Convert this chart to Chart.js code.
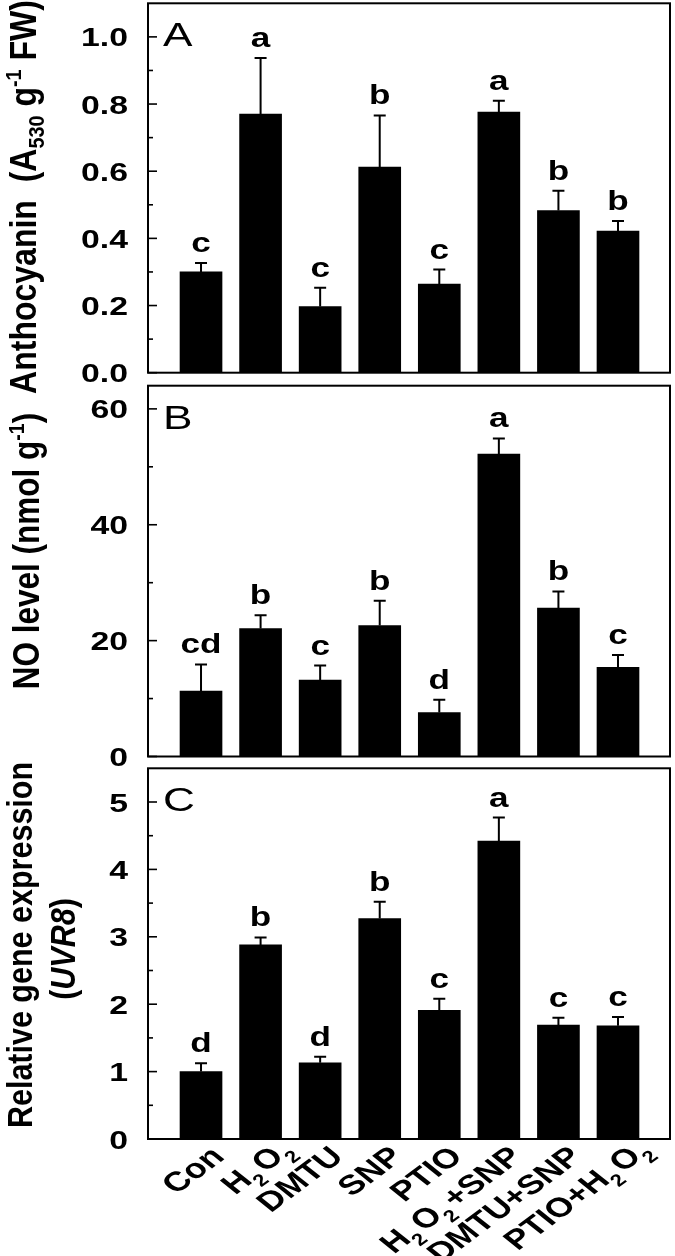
<!DOCTYPE html>
<html><head><meta charset="utf-8">
<script src="https://cdn.jsdelivr.net/npm/chart.js@4.4.1/dist/chart.umd.min.js"></script>
<style>
html,body{margin:0;padding:0;background:#fff;}
#wrap{position:relative;width:675px;height:1256px;overflow:hidden;background:#fff;}
canvas{position:absolute;left:0;top:0;}
</style></head><body>
<div id="wrap">
<canvas id="cA" width="675" height="1256"></canvas>
<canvas id="cB" width="675" height="1256"></canvas>
<canvas id="cC" width="675" height="1256"></canvas>
</div>
<script>
// ---------- data ----------
const categories = ['Con','H2O2','DMTU','SNP','PTIO','H2O2+SNP','DMTU+SNP','PTIO+H2O2'];

const anthocyanin        = [0.300, 0.770, 0.197, 0.612, 0.264, 0.776, 0.483, 0.422];
const anthocyaninSD      = [0.027, 0.167, 0.056, 0.154, 0.043, 0.034, 0.059, 0.030];
const anthocyaninLetters = ['c','a','c','b','c','a','b','b'];

const noLevel        = [11.3, 22.1, 13.2, 22.6, 7.6, 52.2, 25.6, 15.4];
const noLevelSD      = [4.6, 2.3, 2.5, 4.3, 2.2, 2.7, 2.9, 2.1];
const noLevelLetters = ['cd','b','c','b','d','a','b','c'];

const uvr8        = [1.00, 2.88, 1.13, 3.27, 1.91, 4.42, 1.69, 1.68];
const uvr8SD      = [0.125, 0.11, 0.09, 0.25, 0.17, 0.35, 0.11, 0.13];
const uvr8Letters = ['d','b','d','b','c','a','c','c'];

const ticksA = [0, 0.2, 0.4, 0.6, 0.8, 1.0];
const tickLabelsA = ['0.0','0.2','0.4','0.6','0.8','1.0'];
const minorA = [0.1, 0.3, 0.5, 0.7, 0.9];
const ticksB = [0, 20, 40, 60];
const tickLabelsB = ['0','20','40','60'];
const minorB = [10, 30, 50];
const ticksC = [0, 1, 2, 3, 4, 5];
const tickLabelsC = ['0','1','2','3','4','5'];
const minorC = [0.5, 1.5, 2.5, 3.5, 4.5];

// ---------- drawing helpers ----------
const FONT = '"Liberation Sans", Arial, Helvetica, sans-serif';
const SX = 1.3;   // horizontal stretch of the original artwork
function fnt(size, bold, italic){ return (italic?'italic ':'') + (bold?'bold ':'') + size + 'px ' + FONT; }

function drawRich(ctx, segs, x, y, o){
  ctx.save();
  ctx.translate(x, y);
  ctx.scale(o.sx || 1, 1);
  ctx.rotate(o.angle || 0);
  const parts = segs.map(s => {
    const small = s.sub || s.sup;
    const fs = small ? o.size * 0.62 : o.size;
    const f = fnt(fs, o.bold, s.italic);
    ctx.font = f;
    return { s, f, w: ctx.measureText(s.t).width + (small ? (o.subPad || 0) : 0),
             dy: s.sub ? o.size * (o.subDrop || 0.25) : (s.sup ? -o.size * 0.42 : 0) };
  });
  const total = parts.reduce((a,p)=>a+p.w, 0);
  let ref = total;
  if (o.excludeTrailingSub && parts.length && parts[parts.length-1].s.sub) ref -= parts[parts.length-1].w;
  let cx = o.align === 'center' ? -total/2 : (o.align === 'right' ? -ref : 0);
  ctx.textAlign = 'left';
  ctx.textBaseline = 'alphabetic';
  ctx.fillStyle = '#000';
  for (const p of parts){ ctx.font = p.f; ctx.fillText(p.s.t, cx, (o.dy || 0) + p.dy); cx += p.w; }
  ctx.restore();
}

function richLabel(str){
  const segs = [];
  for (const ch of str){
    if (/\d/.test(ch)) segs.push({t: ch, sub: true});
    else if (segs.length && !segs[segs.length-1].sub) segs[segs.length-1].t += ch;
    else segs.push({t: ch});
  }
  return segs;
}

function panelPlugin(cfg){
  return {
    id: 'panel' + cfg.letter,
    afterDatasetsDraw(chart){
      const ctx = chart.ctx, ca = chart.chartArea, ys = chart.scales.y, xs = chart.scales.x;
      ctx.save();
      ctx.strokeStyle = '#000';
      ctx.lineCap = 'butt';
      // error bars and significance letters
      const meta = chart.getDatasetMeta(0);
      meta.data.forEach((bar, i) => {
        const top = ys.getPixelForValue(cfg.values[i] + cfg.sd[i]);
        ctx.lineWidth = 2;
        ctx.beginPath();
        ctx.moveTo(bar.x, bar.y); ctx.lineTo(bar.x, top);
        ctx.moveTo(bar.x - 6, top); ctx.lineTo(bar.x + 6, top);
        ctx.stroke();
        drawRich(ctx, [{t: cfg.letters[i]}], bar.x, top - 11, {size: 27, bold: true, sx: SX, align: 'center'});
      });
      // frame
      ctx.lineWidth = 2;
      ctx.strokeRect(ca.left, ca.top, ca.right - ca.left, ca.bottom - ca.top);
      // y ticks (inward)
      ctx.lineWidth = 1.6;
      cfg.ticks.forEach((v, k) => {
        const py = ys.getPixelForValue(v);
        ctx.beginPath(); ctx.moveTo(ca.left, py); ctx.lineTo(ca.left + 9, py); ctx.stroke();
        drawRich(ctx, [{t: cfg.tickLabels[k]}], 128, py + 9.5, {size: 26, bold: true, sx: SX, align: 'right'});
      });
      cfg.minor.forEach(v => {
        const py = ys.getPixelForValue(v);
        ctx.beginPath(); ctx.moveTo(ca.left, py); ctx.lineTo(ca.left + 5, py); ctx.stroke();
      });
      // panel letter
      drawRich(ctx, [{t: cfg.letter}], 163, ca.top + 43, {size: 34, bold: false, sx: SX, align: 'left'});
      // y-axis title lines
      cfg.titles.forEach(tl => {
        drawRich(ctx, tl.segs, tl.x, tl.y, {size: tl.size, bold: true, sx: 1.15, angle: -Math.PI/2, align: 'center', subDrop: 0.22});
      });
      // category labels
      if (cfg.xLabels){
        categories.forEach((c, i) => {
          const px = xs.getPixelForValue(i);
          drawRich(ctx, richLabel(c), px + 16, ca.bottom + 12,
            {size: 27.5, bold: true, sx: SX, angle: -44 * Math.PI / 180, align: 'right', dy: 9.9,
             subPad: 3, subDrop: 0.3, excludeTrailingSub: true});
        });
      }
      ctx.restore();
    }
  };
}

function makeChart(id, values, yMax, pad, cfg){
  return new Chart(document.getElementById(id), {
    type: 'bar',
    data: { datasets: [{ data: values.map((v, i) => ({x: i, y: v})),
      backgroundColor: '#000', borderWidth: 0, barThickness: 42 }] },
    options: {
      responsive: false, animation: false, devicePixelRatio: 1,
      layout: { padding: pad },
      plugins: { legend: {display: false}, tooltip: {enabled: false} },
      scales: {
        x: { type: 'linear', min: -0.89, max: 7.873, display: false, offset: false },
        y: { min: 0, max: yMax, display: false }
      }
    },
    plugins: [panelPlugin(cfg)]
  });
}

makeChart('cA', anthocyanin, 1.1, {left: 148, right: 5, top: 3.3, bottom: 1256 - 372.7}, {
  letter: 'A', values: anthocyanin, sd: anthocyaninSD, letters: anthocyaninLetters,
  ticks: ticksA, tickLabels: tickLabelsA, minor: minorA,
  titles: [{x: 36, y: 197, size: 32, segs: [{t:'Anthocyanin  (A'},{t:'530',sub:true},{t:' g'},{t:'-1',sup:true},{t:' FW)'}]}]
});
makeChart('cB', noLevel, 64, {left: 148, right: 5, top: 385.7, bottom: 1256 - 756.5}, {
  letter: 'B', values: noLevel, sd: noLevelSD, letters: noLevelLetters,
  ticks: ticksB, tickLabels: tickLabelsB, minor: minorB,
  titles: [{x: 39, y: 551, size: 31.5, segs: [{t:'NO level (nmol g'},{t:'-1',sup:true},{t:')'}]}]
});
makeChart('cC', uvr8, 5.5, {left: 148, right: 5, top: 768.3, bottom: 1256 - 1139}, {
  letter: 'C', values: uvr8, sd: uvr8SD, letters: uvr8Letters,
  ticks: ticksC, tickLabels: tickLabelsC, minor: minorC, xLabels: true,
  titles: [{x: 32, y: 945, size: 30.5, segs: [{t:'Relative gene expression'}]},
           {x: 75, y: 949, size: 30.5, segs: [{t:'('},{t:'UVR8',italic:true},{t:')'}]}]
});
</script>
</body></html>
